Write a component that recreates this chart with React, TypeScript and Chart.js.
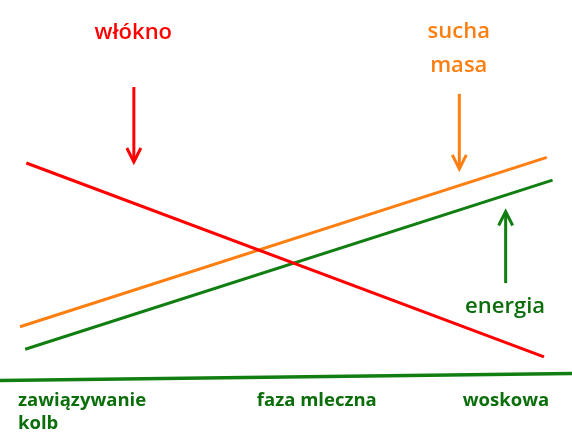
import React, { useEffect, useRef } from "react";
import { Chart, registerables } from "chart.js";

Chart.register(...registerables);

// Stage labels on the horizontal axis and their positions (axis units 0..100)
const stageLabels: (string | string[])[] = [["zawiązywanie", "kolb"], "faza mleczna", "woskowa"];
const stagePositions = [3.15, 44.9, 80.9];

// Series: two points each (x in axis units, y in value units 0..100)
const fibreX = [4.6, 95.1];
const fibre = [57.1, 6.1]; // włókno
const dryMatterX = [3.5, 95.6];
const dryMatter = [14.0, 58.6]; // sucha masa
const energyX = [4.4, 96.6];
const energy = [8.1, 52.6]; // energia
const baselineX = [0, 100];
const baseline = [-0.1, 1.7];

const RED = "#ff0000";
const ORANGE = "#fd7f12";
const GREEN = "#117e11";
const TEXT_GREEN = "#0b6e0b";
const FONT = "'Open Sans', sans-serif";

// Annotations (in axis units)
const arrows = [
  { x: 23.4, from: 77.1, to: 57.1, color: RED },
  { x: 80.3, from: 75.3, to: 55.3, color: ORANGE },
  { x: 88.4, from: 25.5, to: 44.6, color: GREEN },
];
const texts = [
  { lines: ["włókno"], x: 23.3, y: [89.7], color: RED },
  { lines: ["sucha", "masa"], x: 80.2, y: [90.0, 81.0], color: ORANGE },
  { lines: ["energia"], x: 88.3, y: [17.6], color: TEXT_GREEN },
];

const toPoints = (xs: number[], ys: number[]) => xs.map((v, i) => ({ x: v, y: ys[i] }));

const annotationPlugin = {
  id: "annotations",
  afterDatasetsDraw(chart: any) {
    const { ctx, scales } = chart;
    const xs = scales.x;
    const ys = scales.y;
    ctx.save();
    ctx.lineCap = "butt";
    ctx.lineJoin = "miter";
    for (const a of arrows) {
      const px = xs.getPixelForValue(a.x);
      const p0 = ys.getPixelForValue(a.from);
      const p1 = ys.getPixelForValue(a.to);
      const dir = p1 > p0 ? 1 : -1;
      ctx.strokeStyle = a.color;
      ctx.lineWidth = 3;
      ctx.beginPath();
      ctx.moveTo(px, p0);
      ctx.lineTo(px, p1 - dir * 1.5);
      ctx.stroke();
      ctx.beginPath();
      ctx.moveTo(px - 7, p1 - dir * 15);
      ctx.lineTo(px, p1 - dir * 1);
      ctx.lineTo(px + 7, p1 - dir * 15);
      ctx.stroke();
    }
    ctx.textAlign = "center";
    ctx.textBaseline = "alphabetic";
    ctx.font = `600 22px ${FONT}`;
    for (const t of texts) {
      ctx.fillStyle = t.color;
      t.lines.forEach((line, i) => {
        ctx.fillText(line, xs.getPixelForValue(t.x), ys.getPixelForValue(t.y[i]));
      });
    }
    ctx.restore();
  },
};

export default function App() {
  const ref = useRef<HTMLCanvasElement>(null);
  useEffect(() => {
    document.body.style.margin = "0";
    const chart = new Chart(ref.current!, {
      type: "line",
      data: {
        datasets: [
          {
            label: "włókno",
            data: toPoints(fibreX, fibre),
            borderColor: RED,
            borderWidth: 3,
            pointRadius: 0,
            clip: false as any,
          },
          {
            label: "sucha masa",
            data: toPoints(dryMatterX, dryMatter),
            borderColor: ORANGE,
            borderWidth: 3,
            pointRadius: 0,
            clip: false as any,
          },
          {
            label: "energia",
            data: toPoints(energyX, energy),
            borderColor: GREEN,
            borderWidth: 3,
            pointRadius: 0,
            clip: false as any,
          },
          {
            label: "oś",
            data: toPoints(baselineX, baseline),
            borderColor: GREEN,
            borderWidth: 3.5,
            pointRadius: 0,
            clip: false as any,
          },
        ],
      },
      options: {
        animation: false,
        responsive: true,
        maintainAspectRatio: false,
        layout: { padding: 0 },
        plugins: { legend: { display: false }, tooltip: { enabled: false } },
        scales: {
          x: {
            type: "linear",
            min: 0,
            max: 100,
            grid: { display: false, drawTicks: false },
            border: { display: false },
            afterBuildTicks: (scale: any) => {
              scale.ticks = stagePositions.map((v) => ({ value: v }));
            },
            afterFit: (scale: any) => {
              scale.height = 68;
            },
            ticks: {
              autoSkip: false,
              maxRotation: 0,
              minRotation: 0,
              align: "start",
              padding: 9.5,
              color: TEXT_GREEN,
              font: { family: FONT, size: 18.5, weight: "bold", lineHeight: 1.25 },
              callback: (_v: any, i: number) => stageLabels[i],
            },
          },
          y: { display: false, min: 0, max: 100 },
        },
      },
      plugins: [annotationPlugin],
    });
    return () => chart.destroy();
  }, []);
  return (
    <div style={{ position: "relative", width: 572, height: 448 }}>
      <canvas ref={ref} />
    </div>
  );
}
